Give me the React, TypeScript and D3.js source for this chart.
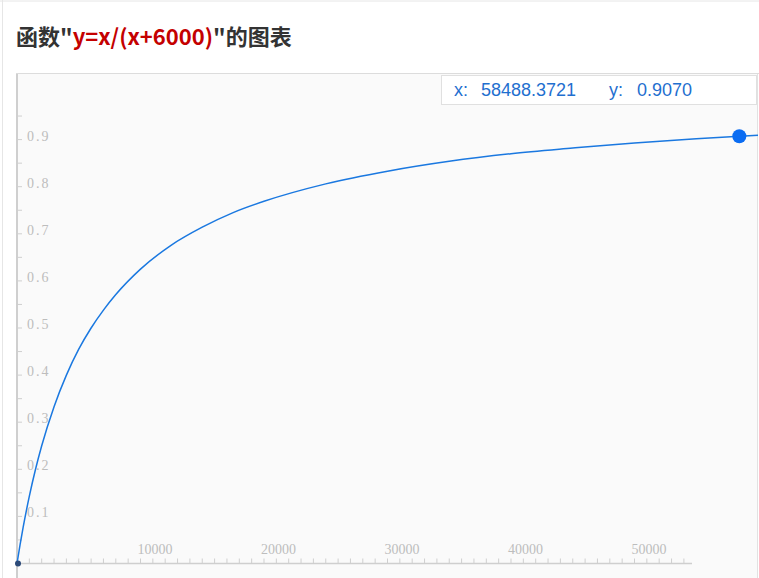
import React from 'react';
import * as d3 from 'd3';

// points (x, y)
const xs = [0, 250, 500, 1000, 1500, 2000, 3000, 4000, 5000, 6000, 7000, 8000, 10000, 12500, 15000, 17500, 20000, 25000, 30000, 35000, 40000, 45000, 50000, 55000, 58488, 60000];
const ys = [0, 0.04, 0.077, 0.143, 0.2, 0.25, 0.333, 0.4, 0.455, 0.5, 0.538, 0.571, 0.625, 0.676, 0.714, 0.745, 0.769, 0.806, 0.833, 0.854, 0.87, 0.882, 0.893, 0.902, 0.907, 0.909];
const xTickLabels = [10000, 20000, 30000, 40000, 50000];
const yTickLabels = [0.1, 0.2, 0.3, 0.4, 0.5, 0.6, 0.7, 0.8, 0.9];
const hover = { x: 58488.3721, y: 0.907 };

const W = 759;
const H = 578;

export default function App() {
  const x = d3.scaleLinear().domain([0, 60000]).range([17, 758]);
  const y = d3.scaleLinear().domain([0, 1]).range([563.5, 92.5]);

  const pts = xs.map((v, i) => [v, ys[i]] as [number, number]);
  const line = d3.line<[number, number]>()
    .x(d => x(d[0]))
    .y(d => y(d[1]))
    .curve(d3.curveMonotoneX);

  const minorX = d3.range(1000, 55000, 1000);
  const minorY = d3.range(0.05, 0.96, 0.05);

  return (
    <svg width={W} height={H} style={{ position: 'absolute', left: 0, top: 0, background: '#fff' }}>
      {/* page frame */}
      <line x1={0} x2={W} y1={1} y2={1} stroke="#e6e6e6" />
      <line x1={2.5} x2={2.5} y1={0} y2={H} stroke="#e6e6e6" />

      <text x={16} y={45} fontFamily="'Noto Sans CJK SC', sans-serif" fontSize={22} fontWeight="bold" fill="#333">
        函数"<tspan fill="#c40000">y=x/(x+6000)</tspan>"的图表
      </text>

      {/* plot panel */}
      <rect x={17} y={74} width={741} height={H - 74} fill="#fafafa" />
      <line x1={16} x2={W} y1={73.5} y2={73.5} stroke="#dcdcdc" />
      <line x1={757.5} x2={757.5} y1={74} y2={H} stroke="#e2e2e2" />
      <line x1={17} x2={17} y1={74} y2={H} stroke="#cfcfcf" strokeWidth={2} />

      {/* y ticks */}
      {minorY.map(v => (
        <line key={'yt' + v} x1={17} x2={22} y1={y(v)} y2={y(v)} stroke="#cfcfcf" />
      ))}
      {yTickLabels.map(v => (
        <text key={'yl' + v} x={27} y={y(v) + 1} fontFamily="'Liberation Serif', serif" fontSize={14}
          fill="#bdbdbd" letterSpacing={2}>
          {v.toFixed(1)}
        </text>
      ))}

      {/* x axis */}
      <line x1={17} x2={692} y1={563.5} y2={563.5} stroke="#cfcfcf" strokeWidth={1.5} />
      {minorX.map(v => (
        <line key={'xt' + v} x1={x(v)} x2={x(v)} y1={563.5} y2={558.5} stroke="#cfcfcf" />
      ))}
      {xTickLabels.map(v => (
        <text key={'xl' + v} x={x(v) - 3} y={554} fontFamily="'Liberation Serif', serif" fontSize={14} fill="#bdbdbd">
          {v}
        </text>
      ))}

      <path d={line(pts) || ''} fill="none" stroke="#1a78e0" strokeWidth={1.5} />
      <circle cx={x(0) + 1} cy={y(0)} r={3} fill="#2c4a78" />
      <circle cx={x(hover.x)} cy={y(hover.y)} r={7} fill="#0a6cf2" />

      {/* hover readout */}
      <rect x={441.5} y={75.5} width={315} height={29} fill="#fff" stroke="#e0e0e0" />
      <g fontFamily="'Liberation Sans', Arial, sans-serif" fontSize={18} fill="#1f6fcf">
        <text x={454} y={96}>x:</text>
        <text x={481} y={96}>{hover.x.toFixed(4)}</text>
        <text x={609} y={96}>y:</text>
        <text x={637} y={96}>{hover.y.toFixed(4)}</text>
      </g>
    </svg>
  );
}
